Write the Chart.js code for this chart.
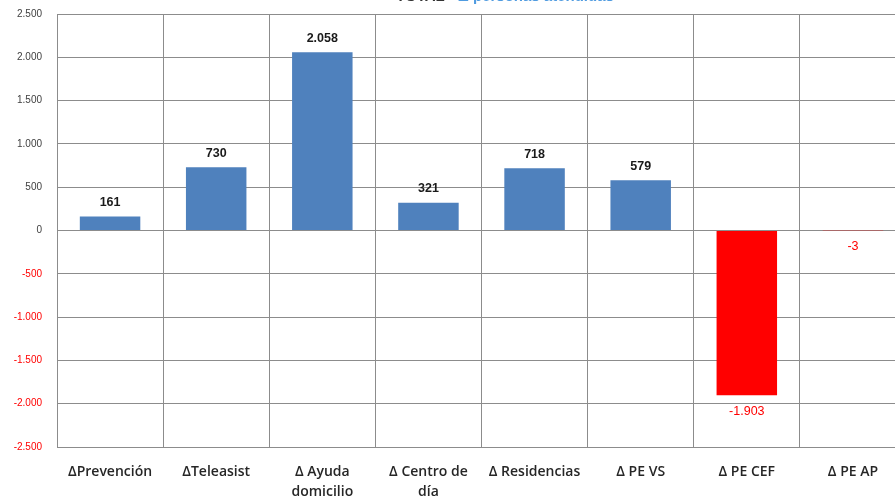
<!DOCTYPE html>
<html>
<head>
<meta charset="utf-8">
<script src="https://cdn.jsdelivr.net/npm/chart.js@4"></script>
<style>
  html, body { margin: 0; padding: 0; background: #ffffff; overflow: hidden; }
  #wrap { position: relative; width: 895px; height: 502px; overflow: hidden; }
  canvas { display: block; }
</style>
</head>
<body>
<div id="wrap"><canvas id="c" width="912" height="502"></canvas></div>
<script>
const categories = [
  "\u0394Prevenci\u00f3n",
  "\u0394Teleasist",
  ["\u0394 Ayuda", "domicilio"],
  ["\u0394 Centro de", "d\u00eda"],
  "\u0394 Residencias",
  "\u0394 PE VS",
  "\u0394 PE CEF",
  "\u0394 PE AP"
];
const values = [161, 730, 2058, 321, 718, 579, -1903, -3];
const yTicks = [-2500, -2000, -1500, -1000, -500, 0, 500, 1000, 1500, 2000, 2500];
const titleMain = "TOTAL";
const titleSub = " - \u0394 personas atendidas";

function fmt(v) {
  const s = Math.abs(v).toString().replace(/\B(?=(\d{3})+(?!\d))/g, ".");
  return (v < 0 ? "-" : "") + s;
}

const valueLabels = {
  id: "valueLabels",
  afterDatasetsDraw(chart) {
    const ctx = chart.ctx;
    const meta = chart.getDatasetMeta(0);
    ctx.save();
    ctx.textAlign = "center";
    ctx.textBaseline = "middle";
    meta.data.forEach((bar, i) => {
      const v = values[i];
      if (v >= 0) {
        ctx.fillStyle = "#1a1a1a";
        ctx.font = "bold 12.5px 'Liberation Sans', Arial, sans-serif";
        ctx.fillText(fmt(v), bar.x, bar.y - 14);
      } else {
        ctx.fillStyle = "#ff0000";
        ctx.font = "12.5px 'Liberation Sans', Arial, sans-serif";
        ctx.fillText(fmt(v), bar.x, Math.max(bar.y, bar.base) + 16);
      }
    });
    ctx.restore();
  }
};

const titlePlugin = {
  id: "cutTitle",
  afterDraw(chart) {
    const ctx = chart.ctx;
    ctx.save();
    ctx.font = "bold 15px 'Liberation Sans', Arial, sans-serif";
    ctx.textBaseline = "alphabetic";
    ctx.textAlign = "left";
    const w1 = ctx.measureText(titleMain).width;
    const w2 = ctx.measureText(titleSub).width;
    const x0 = 505 - (w1 + w2) / 2;
    ctx.fillStyle = "#333333";
    ctx.fillText(titleMain, x0, 1);
    ctx.fillStyle = "#4f9be0";
    ctx.fillText(titleSub, x0 + w1, 1);
    ctx.restore();
  }
};

new Chart(document.getElementById("c"), {
  type: "bar",
  data: {
    labels: categories,
    datasets: [{
      data: values,
      backgroundColor: values.map(v => v < 0 ? "#ff0000" : "#4f81bd"),
      borderWidth: 0,
      barPercentage: 0.57,
      categoryPercentage: 1.0
    }]
  },
  options: {
    responsive: false,
    animation: false,
    devicePixelRatio: 1,
    layout: { padding: { top: 14, right: 6, left: 0, bottom: 0 } },
    plugins: { legend: { display: false }, tooltip: { enabled: false }, title: { display: false } },
    scales: {
      x: {
        grid: { color: "#8c8c8c", lineWidth: 1, drawTicks: false, offset: true },
        border: { color: "#8c8c8c" },
        ticks: {
          color: "#262626",
          padding: 15,
          maxRotation: 0,
          autoSkip: false,
          font: { family: "'Open Sans', sans-serif", size: 14, weight: "600", lineHeight: 1.43 }
        },
        afterFit(s) { s.height = 55; s.paddingLeft = 0; s.paddingRight = 0; }
      },
      y: {
        min: -2500,
        max: 2500,
        afterBuildTicks(s) { s.ticks = yTicks.map(v => ({ value: v })); },
        grid: { color: "#8c8c8c", lineWidth: 1, drawTicks: false },
        border: { color: "#8c8c8c" },
        ticks: {
          padding: 15,
          color: (c) => c.tick.value < 0 ? "#ff0000" : "#404040",
          font: { family: "'Liberation Sans', Arial, sans-serif", size: 10 },
          callback: (v) => fmt(v)
        },
        afterFit(s) { s.width = 57; s.paddingTop = 0; s.paddingBottom = 0; }
      }
    }
  },
  plugins: [valueLabels, titlePlugin]
});
</script>
</body>
</html>
